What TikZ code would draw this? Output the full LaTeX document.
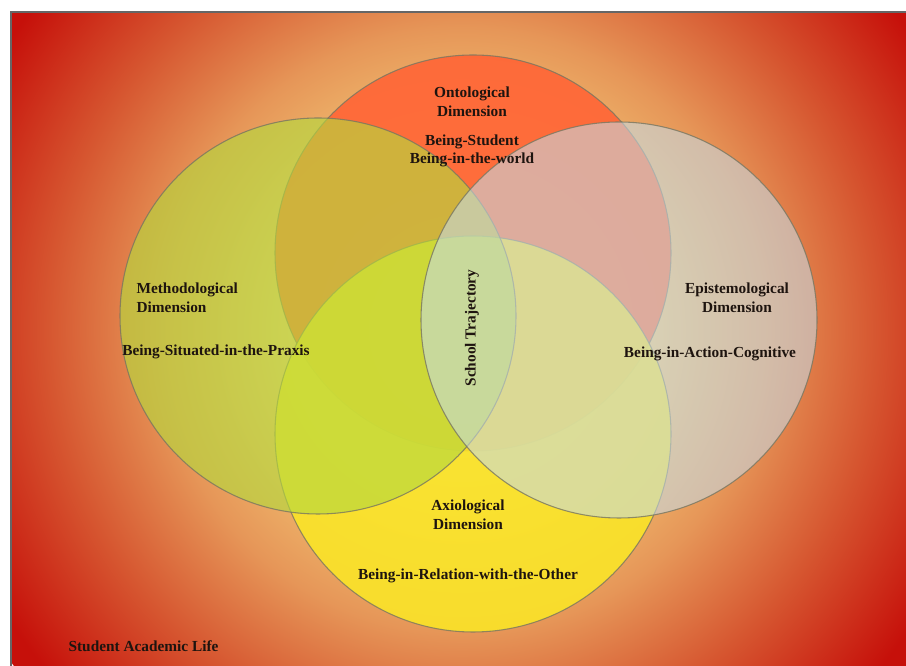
\documentclass[tikz,border=0pt]{standalone}
\usepackage{fontspec}
\setmainfont{Liberation Serif}
\usetikzlibrary{positioning}

\definecolor{ontofill}{RGB}{255,104,56}
\definecolor{methfill}{RGB}{182,216,62}
\definecolor{epifill}{RGB}{198,218,228}
\definecolor{axiofill}{RGB}{250,228,40}
\definecolor{rimgray}{RGB}{120,118,96}
\definecolor{inkdark}{RGB}{30,20,15}
\definecolor{glowcore}{RGB}{252,238,165}
\definecolor{glowwarm}{RGB}{242,196,116}
\definecolor{glowpeach}{RGB}{230,150,88}
\definecolor{glowember}{RGB}{214,86,48}
\definecolor{glowred}{RGB}{198,16,10}
\pgfdeclareradialshading{bgglow}{\pgfpoint{0bp}{0bp}}{color(0bp)=(glowcore); color(3bp)=(glowcore); color(8.5bp)=(glowwarm); color(13.5bp)=(glowpeach); color(18.5bp)=(glowember); color(24bp)=(glowred); color(50bp)=(glowred)}

\begin{document}
\begin{tikzpicture}[x=0.75pt, y=0.75pt,
    disc/.style={circle, minimum size=297pt, inner sep=0pt, outer sep=0pt, draw=rimgray, line width=0.8pt, draw opacity=0.8},
    lbl/.style={font=\bfseries\fontsize{11.5}{14}\selectfont, text=inkdark, align=center, inner sep=1pt}]
    \useasboundingbox (0,0) rectangle (906,666);
    % background glow
    \begin{scope}
        \clip (11,0) rectangle (906,654);
        \shade[shading=bgglow] (462,336) circle[radius=420pt];
    \end{scope}
    \draw[gray!80!black, line width=0.8pt] (11,0) -- (11,654) -- (906,654);

    % the four dimensions
    \node[disc, fill=ontofill, fill opacity=0.95] (onto) at (473,413) {};
    \node[disc, fill=axiofill, fill opacity=0.9] (axio) at (473,232) {};
    \node[disc, fill=methfill, fill opacity=0.65] (meth) at (318,350) {};
    \node[disc, fill=epifill, fill opacity=0.58] (epi) at (619,346) {};

    % labels
    \node[lbl] (ontotitle) at (472,564) {Ontological\\Dimension};
    \node[lbl] (ontobeing) at (472,515) {Being-Student\\Being-in-the-world};
    \node[lbl, align=left, anchor=west] (methtitle) at (135,368) {Methodological\\Dimension};
    \node[lbl] (methbeing) at (216,314) {Being-Situated-in-the-Praxis};
    \node[lbl] (epititle) at (737,368) {Epistemological\\Dimension};
    \node[lbl] (epibeing) at (710,312) {Being-in-Action-Cognitive};
    \node[lbl, rotate=90] (trajectory) at (472,338) {School Trajectory};
    \node[lbl] (axiotitle) at (468,151) {Axiological\\Dimension};
    \node[lbl] (axiobeing) at (468,90) {Being-in-Relation-with-the-Other};
    \node[lbl, anchor=west] (lifelabel) at (67,20) {Student Academic Life};
\end{tikzpicture}
\end{document}
